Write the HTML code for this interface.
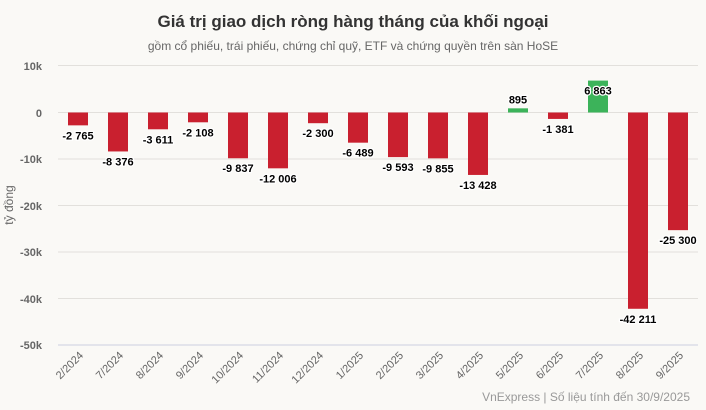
<!DOCTYPE html>
<html><head><meta charset="utf-8"><style>
body{margin:0;background:#faf9f6;}
svg{display:block;font-family:"Liberation Sans",Arial,sans-serif;}
</style></head><body>
<svg width="706" height="410" viewBox="0 0 706 410">
<rect width="706" height="410" fill="#faf9f6"/>
<text x="353" y="27" text-anchor="middle" font-size="17" font-weight="bold" fill="#333">Giá trị giao dịch ròng hàng tháng của khối ngoại</text>
<text x="353" y="50" text-anchor="middle" font-size="12" fill="#666">gồm cổ phiếu, trái phiếu, chứng chỉ quỹ, ETF và chứng quyền trên sàn HoSE</text>
<g stroke="#e2e0dc" stroke-width="1">
<line x1="58" x2="698" y1="65.5" y2="65.5"/>
<line x1="58" x2="698" y1="112.5" y2="112.5"/>
<line x1="58" x2="698" y1="159" y2="159"/>
<line x1="58" x2="698" y1="205.5" y2="205.5"/>
<line x1="58" x2="698" y1="252" y2="252"/>
<line x1="58" x2="698" y1="298.5" y2="298.5"/>
<line x1="58" x2="698" y1="345" y2="345" stroke="#ccd0e0"/>
</g>
<g font-size="11" font-weight="bold" fill="#666" text-anchor="end">
<text x="42" y="70">10k</text><text x="42" y="117">0</text><text x="42" y="163">-10k</text>
<text x="42" y="210">-20k</text><text x="42" y="256">-30k</text><text x="42" y="303">-40k</text><text x="42" y="349">-50k</text>
</g>
<text transform="translate(13,205) rotate(-90)" text-anchor="middle" font-size="12" fill="#666">tỷ đồng</text>
<g id="bars"></g>
<g id="labels" font-size="11" font-weight="bold" text-anchor="middle" fill="#000" stroke="#fff" stroke-width="2.5" paint-order="stroke"></g>
<g id="xl" font-size="11" fill="#666" text-anchor="end"></g>
<text x="690" y="401" text-anchor="end" font-size="12" fill="#999">VnExpress | Số liệu tính đến 30/9/2025</text>
<script>
var d=[["2/2024",-2765],["7/2024",-8376],["8/2024",-3611],["9/2024",-2108],["10/2024",-9837],["11/2024",-12006],["12/2024",-2300],["1/2025",-6489],["2/2025",-9593],["3/2025",-9855],["4/2025",-13428],["5/2025",895],["6/2025",-1381],["7/2025",6863],["8/2025",-42211],["9/2025",-25300]];
var ns="http://www.w3.org/2000/svg",z=112.5,k=4.65/1000;
function el(t,a,p,txt){var e=document.createElementNS(ns,t);for(var q in a)e.setAttribute(q,a[q]);if(txt)e.textContent=txt;document.getElementById(p).appendChild(e);}
d.forEach(function(r,i){var c=78+40*i,h=Math.abs(r[1])*k,neg=r[1]<0;
el("rect",{x:c-10,y:neg?z:z-h,width:20,height:h,fill:neg?"#c9202f":"#3cb35a"},"bars");
var s=(r[1]<0?"-":"")+Math.abs(r[1]).toString().replace(/\B(?=(\d{3})+(?!\d))/g," ");
var y=neg?z+h+14:(h>20?z-h+14:z-h-5);
el("text",{x:c,y:y},"labels",s);
el("text",{x:c+6,y:356,transform:"rotate(-45 "+(c+6)+" 356)"},"xl",r[0]);});
</script>
</svg>
</body></html>
